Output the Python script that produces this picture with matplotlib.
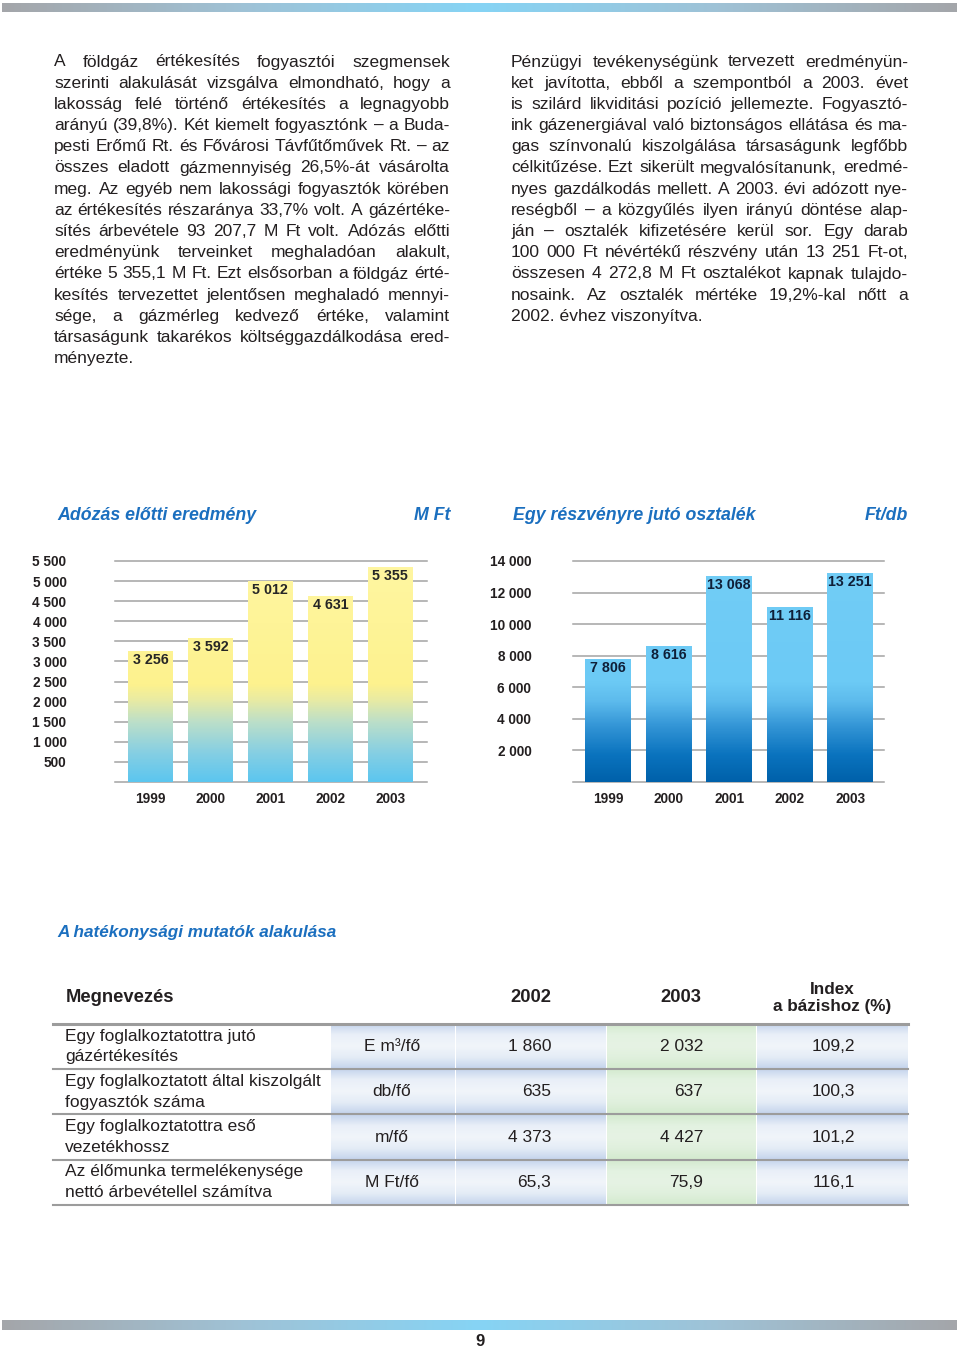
import numpy as np
import matplotlib
matplotlib.use("Agg")
import matplotlib.pyplot as plt
from matplotlib.colors import LinearSegmentedColormap

# --- adatok ---
years = ["1999", "2000", "2001", "2002", "2003"]
pretax_profit = [3256, 3592, 5012, 4631, 5355]          # M Ft
dividend_per_share = [7806, 8616, 13068, 11116, 13251]  # Ft/db
profit_ticks = list(range(0, 5501, 500))
dividend_ticks = list(range(0, 14001, 2000))

table_header = ["Megnevezés", "2002", "2003", "Index\na bázishoz (%)"]
table_names = ["Egy foglalkoztatottra jutó\ngázértékesítés",
               "Egy foglalkoztatott által kiszolgált\nfogyasztók száma",
               "Egy foglalkoztatottra eső\nvezetékhossz",
               "Az élőmunka termelékenysége\nnettó árbevétellel számítva"]
table_units = ["E m³/fő", "db/fő", "m/fő", "M Ft/fő"]
table_2002 = ["1 860", "635", "4 373", "65,3"]
table_2003 = ["2 032", "637", "4 427", "75,9"]
table_index = ["109,2", "100,3", "101,2", "116,1"]

left_text = [
    "A földgáz értékesítés fogyasztói szegmensek",
    "szerinti alakulását vizsgálva elmondható, hogy a",
    "lakosság felé történő értékesítés a legnagyobb",
    "arányú (39,8%). Két kiemelt fogyasztónk – a Buda-",
    "pesti Erőmű Rt. és Fővárosi Távfűtőművek Rt. – az",
    "összes eladott gázmennyiség 26,5%-át vásárolta",
    "meg. Az egyéb nem lakossági fogyasztók körében",
    "az értékesítés részaránya 33,7% volt. A gázértéke-",
    "sítés árbevétele 93 207,7 M Ft volt. Adózás előtti",
    "eredményünk terveinket meghaladóan alakult,",
    "értéke 5 355,1 M Ft. Ezt elsősorban a földgáz érté-",
    "kesítés tervezettet jelentősen meghaladó mennyi-",
    "sége, a gázmérleg kedvező értéke, valamint",
    "társaságunk takarékos költséggazdálkodása ered-",
    "ményezte.",
]
right_text = [
    "Pénzügyi tevékenységünk tervezett eredményün-",
    "ket javította, ebből a szempontból a 2003. évet",
    "is szilárd likviditási pozíció jellemezte. Fogyasztó-",
    "ink gázenergiával való biztonságos ellátása és ma-",
    "gas színvonalú kiszolgálása társaságunk legfőbb",
    "célkitűzése. Ezt sikerült megvalósítanunk, eredmé-",
    "nyes gazdálkodás mellett. A 2003. évi adózott nye-",
    "reségből – a közgyűlés ilyen irányú döntése alap-",
    "ján – osztalék kifizetésére kerül sor. Egy darab",
    "100 000 Ft névértékű részvény után 13 251 Ft-ot,",
    "összesen 4 272,8 M Ft  osztalékot kapnak tulajdo-",
    "nosaink. Az osztalék mértéke 19,2%-kal nőtt a",
    "2002. évhez viszonyítva.",
]

TEXT = "#231f20"
BLUE = "#1b6fbf"
NARROW = ["Liberation Sans Narrow", "Liberation Sans"]
plt.rcParams["font.family"] = ["Liberation Sans", "DejaVu Sans"]

fig = plt.figure(figsize=(9.6, 13.49), dpi=100)
page = fig.add_axes([0, 0, 1, 1])
page.set_xlim(0, 960)
page.set_ylim(1349, 0)
page.axis("off")
renderer = fig.canvas.get_renderer()


def fmt(v):
    return f"{v:,}".replace(",", " ")


def page_bar(y0, y1):
    """ Szürke-kék színátmenetes csík a lap tetején / alján """
    cm = LinearSegmentedColormap.from_list("bar", ["#a4a6aa", "#9fc2d6", "#86d4f5", "#9fc2d6", "#a4a6aa"])
    page.imshow(np.linspace(0, 1, 400).reshape(1, -1), cmap=cm, extent=[2, 957, y1, y0],
                aspect="auto", zorder=1)


def text_width(s, size):
    t = page.text(0, 0, s, fontsize=size)
    w = t.get_window_extent(renderer).width
    t.remove()
    return w


def justify(lines, x0, x1, base0, dy):
    """ Sorkizárt bekezdés: a legszorosabb sor normál szóközzel tölti ki a hasábot """
    widest = max(text_width(" ".join(l.split()), 10) for l in lines[:-1])
    size = 10 * (x1 - x0) / widest * 0.995
    for i, line in enumerate(lines):
        y = base0 + i * dy
        if i == len(lines) - 1:
            page.text(x0, y, line, fontsize=size, color=TEXT, va="baseline")
            continue
        words = line.split()
        ts = [page.text(0, y, w, fontsize=size, color=TEXT, va="baseline") for w in words]
        widths = [t.get_window_extent(renderer).width for t in ts]
        gap = (x1 - x0 - sum(widths)) / (len(words) - 1)
        x = x0
        for t, w in zip(ts, widths):
            t.set_x(x)
            x += w + gap


page_bar(3, 12)
page_bar(1320, 1330)
page.text(480, 1342, "9", fontsize=12, fontweight="bold", color=TEXT, ha="center", va="center")

justify(left_text, 54, 450, 66.5, 21.2)
justify(right_text, 511, 908, 66.5, 21.2)

# diagram címek
title_kw = dict(fontsize=12.8, fontweight="bold", style="italic", color=BLUE, va="center", family=NARROW)
page.text(57, 515, "Adózás előtti eredmény", **title_kw)
page.text(450, 515, "M Ft", ha="right", **title_kw)
page.text(513, 515, "Egy részvényre jutó osztalék", **title_kw)
page.text(908, 515, "Ft/db", ha="right", **title_kw)
page.text(57, 932, "A hatékonysági mutatók alakulása", fontsize=12.3, fontweight="bold",
          style="italic", color=BLUE, va="center")


def gradient_bars(ax, values, ticks, cmap, label_color):
    x = np.arange(len(values))
    ymax = ticks[-1]
    bars = ax.bar(x, values, width=0.75, color="none", edgecolor="none", zorder=2)
    grad = np.linspace(0, ymax, 300).reshape(-1, 1)
    for b, v in zip(bars, values):
        im = ax.imshow(grad, cmap=cmap, vmin=0, vmax=ymax, origin="lower", aspect="auto",
                       extent=[b.get_x(), b.get_x() + b.get_width(), 0, ymax], zorder=2)
        im.set_clip_path(b)
        ax.annotate(fmt(v), (b.get_x() + b.get_width() / 2, v), xytext=(0, -6.5),
                    textcoords="offset points", ha="center", va="center",
                    fontsize=10.3, fontweight="bold", color=label_color, zorder=3)
    ax.set_ylim(0, ymax)
    ax.set_yticks(ticks)
    ax.set_yticklabels([""] + [fmt(t) for t in ticks[1:]])
    ax.set_xticks(x)
    ax.set_xticklabels(years)
    ax.set_axisbelow(True)
    ax.yaxis.grid(True, color="#a3a3a3", linewidth=1.1)
    for gl in ax.get_ygridlines():
        gl.set_clip_on(False)
    for s in ax.spines.values():
        s.set_visible(False)
    ax.set_facecolor("none")
    for lab in ax.get_xticklabels() + ax.get_yticklabels():
        lab.set_fontweight("bold")
        lab.set_fontsize(9.8)
        lab.set_color(TEXT)


# Adózás előtti eredmény
ax1 = fig.add_axes([115 / 960, 1 - 782 / 1349, 312 / 960, 221 / 1349])
cmap1 = LinearSegmentedColormap.from_list("c1", [
    (0.0, "#5cc6ef"), (0.13, "#86cfe3"), (0.27, "#bcdfc9"), (0.37, "#e9eba3"),
    (0.44, "#fdf28e"), (1.0, "#fff6a2")])
gradient_bars(ax1, pretax_profit, profit_ticks, cmap1, "#262626")
ax1.set_xlim(-0.59, 4.61)
ax1.tick_params(axis="y", length=0, pad=35)
ax1.tick_params(axis="x", length=0, pad=7)

# Egy részvényre jutó osztalék
ax2 = fig.add_axes([573 / 960, 1 - 782 / 1349, 311 / 960, 221 / 1349])
cmap2 = LinearSegmentedColormap.from_list("c2", [
    (0.0, "#0061aa"), (0.12, "#0a73be"), (0.25, "#3395d6"), (0.36, "#5cbaec"),
    (0.45, "#6ccaf5"), (1.0, "#72cdf6")])
gradient_bars(ax2, dividend_per_share, dividend_ticks, cmap2, "#0f1f38")
ax2.set_xlim(-0.58, 4.56)
ax2.tick_params(axis="y", length=0, pad=30)
ax2.tick_params(axis="x", length=0, pad=7)

# --- táblázat ---
head_kw = dict(fontsize=13.2, fontweight="bold", color=TEXT, va="center", family=NARROW)
page.text(66, 998, table_header[0], **head_kw)
page.text(531, 997, table_header[1], ha="center", **head_kw)
page.text(681, 997, table_header[2], ha="center", **head_kw)
page.text(832, 998, table_header[3], ha="center", linespacing=1.2, fontsize=12.3,
          **{k: v for k, v in head_kw.items() if k != "fontsize"})

row_top = 1024
row_h = 45.2
blue_cm = LinearSegmentedColormap.from_list("cell", ["#c3d3ec", "#e9eff8", "#f1f5fa", "#e4ecf6", "#c3d3ec"])
green_cm = LinearSegmentedColormap.from_list("cellg", ["#d3eace", "#e3f2e1", "#e6f3e4", "#e0f0dd", "#d3eace"])
cols = [(331, 455, blue_cm), (456, 606, blue_cm), (607, 756, green_cm), (757, 908, blue_cm)]
cell_kw = dict(fontsize=12.5, color=TEXT, va="center", family=NARROW)

for i in range(len(table_names)):
    y0 = row_top + i * row_h
    yc = y0 + row_h / 2
    for xa, xb, cm in cols:
        page.imshow(np.linspace(0, 1, 100).reshape(-1, 1), cmap=cm, aspect="auto",
                    extent=[xa, xb, y0 + row_h, y0], zorder=1)
    page.text(65, yc, table_names[i], linespacing=1.45, **cell_kw)
    page.text(392, yc, table_units[i], ha="center", **cell_kw)
    page.text(551, yc, table_2002[i], ha="right", **cell_kw)
    page.text(703, yc, table_2003[i], ha="right", **cell_kw)
    page.text(855, yc, table_index[i], ha="right", **cell_kw)
    page.plot([53, 908], [y0 + row_h, y0 + row_h], color="#9c9c9c", lw=1.5, zorder=3)

page.plot([53, 908], [row_top, row_top], color="#9c9c9c", lw=2.2, zorder=3)
page.set_xlim(0, 960)
page.set_ylim(1349, 0)

fig.savefig("out.png", dpi=100)
